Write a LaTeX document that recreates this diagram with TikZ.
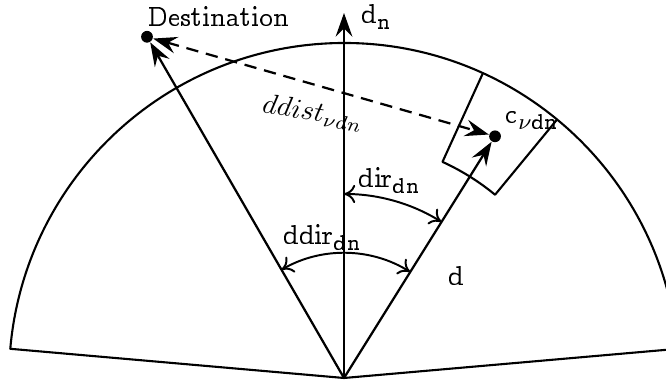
\documentclass[tikz,border=0pt]{standalone}
\usepackage[OT1]{fontenc}
\renewcommand{\rmdefault}{ccr}
\usetikzlibrary{arrows.meta,calc}
\newcommand{\lsub}[1]{\raisebox{-0.5ex}{\fontsize{8}{9}\selectfont #1}}
\tikzset{
  tip/.tip={Stealth[length=8.5pt,width=6pt,inset=3pt]},
  ray/.style={line width=0.8pt,-tip},
  dray/.style={line width=0.8pt,dash pattern=on 4.4pt off 2.8pt,tip-tip},
  angarc/.style={line width=0.7pt,{To[length=4pt,width=6.5pt]}-{To[length=4pt,width=6.5pt]}},
  edge/.style={line width=0.75pt},
  dot/.style={circle,fill=black,minimum size=4.2pt,inner sep=0pt},
  lbl/.style={inner sep=0pt}
}
\begin{document}
\begin{tikzpicture}[x=0.357pt,y=0.357pt]
\useasboundingbox (0,0) rectangle (666,380);
\coordinate (O) at (344,2);
% sector
\draw[edge,line join=round] (O) -- ($(O)+(5:335)$) arc[start angle=5,end angle=175,radius=335] -- cycle;
% cell
\draw[edge,line join=round] ($(O)+(65.5:335)$) -- ($(O)+(65.5:237.5)$) arc[start angle=65.5,end angle=50.5,radius=237.5] -- ($(O)+(50.5:335)$);
% points
\coordinate (top) at ($(O)+(90:365)$);
\node[dot] (dest) at ($(O)+(120:394)$) {};
\node[dot] (c) at ($(O)+(58:285)$) {};
% rays
\draw[ray] (O) -- (top);
\draw[ray] (O) -- (dest);
\draw[ray] (O) -- (c);
\draw[dray] (dest) -- (c);
% angle arcs
\draw[angarc] ($(O)+(58:184)$) arc[start angle=58,end angle=90,radius=184];
\draw[angarc] ($(O)+(58:125)$) arc[start angle=58,end angle=120,radius=125];
% labels
\node[lbl] (ldest) at (218,363) {\fontsize{10.3}{12}\selectfont Destination};
\node[lbl,anchor=west] (ldn) at (361,363) {\fontsize{10.3}{12}\selectfont d\lsub{n}};
\node[lbl,rotate=-9] (lddist) at (313,267) {$ddist_{\nu dn}$};
\node[lbl] (ldir) at (389,199) {\fontsize{10.3}{12}\selectfont dir\lsub{dn}};
\node[lbl] (lddir) at (322,142) {\fontsize{10.3}{12}\selectfont ddir\lsub{dn}};
\node[lbl] (ld) at (456,104) {\fontsize{10.3}{12}\selectfont d};
\node[lbl] (lc) at (532,260) {\fontsize{10.3}{12}\selectfont c\lsub{$\nu$dn}};
\end{tikzpicture}
\end{document}
